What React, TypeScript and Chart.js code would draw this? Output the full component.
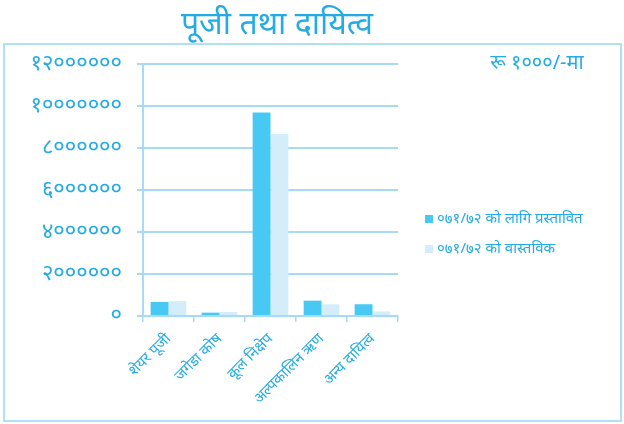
import React, { useEffect, useRef } from "react";
import { Chart, registerables } from "chart.js";

Chart.register(...registerables);

const titleText = "पूजी तथा दायित्व";
const unitText = "रू १०००/-मा";
const categories = ["शेयर पूजी", "जगेडा कोष", "कूल निक्षेप", "अल्पकालिन ऋण", "अन्य दायित्व"];
const seriesLabels = ["०७१/७२ को लागि प्रस्तावित", "०७१/७२ को वास्तविक"];
const proposed = [670000, 160000, 9690000, 730000, 560000];
const actual = [710000, 190000, 8670000, 560000, 220000];
const yMax = 12000000;
const yStep = 2000000;

const devDigits = ["०", "१", "२", "३", "४", "५", "६", "७", "८", "९"];
const toDev = (v: number) => String(v).replace(/[0-9]/g, (d) => devDigits[Number(d)]);

const FONT = "'Noto Sans', 'Noto Sans Devanagari', sans-serif";
const TEXT = "#25abe3";
const GRID = "#a6dbf4";
const DARK = "#48c9f3";
const LIGHT = "#d3eefa";

const decor = {
  id: "decor",
  beforeDraw(chart: any) {
    const ctx = chart.ctx;
    ctx.save();
    ctx.fillStyle = "#ffffff";
    ctx.fillRect(0, 0, chart.width, chart.height);
    ctx.strokeStyle = "#aee0f6";
    ctx.lineWidth = 2;
    ctx.strokeRect(4, 44, 617, 377);
    ctx.restore();
  },
  afterDraw(chart: any) {
    const ctx = chart.ctx;
    ctx.save();
    ctx.fillStyle = TEXT;
    ctx.textBaseline = "middle";
    ctx.textAlign = "center";
    ctx.font = `32px ${FONT}`;
    ctx.fillText(titleText, 277, 25);
    ctx.font = `20px ${FONT}`;
    ctx.fillText(unitText, 537, 63);
    const colors = [DARK, LIGHT];
    ctx.textAlign = "left";
    ctx.font = `15px ${FONT}`;
    seriesLabels.forEach((lab, i) => {
      const y = 219 + i * 30;
      ctx.fillStyle = colors[i];
      ctx.fillRect(425, y - 4, 8, 8);
      ctx.fillStyle = TEXT;
      ctx.fillText(lab, 437, y);
    });
    ctx.restore();
  },
};

export default function App() {
  const ref = useRef<HTMLCanvasElement>(null);
  useEffect(() => {
    if (!ref.current) return;
    const chart = new Chart(ref.current, {
      type: "bar",
      data: {
        labels: categories,
        datasets: [
          { label: seriesLabels[0], data: proposed, backgroundColor: DARK, categoryPercentage: 0.7, barPercentage: 1.0 },
          { label: seriesLabels[1], data: actual, backgroundColor: LIGHT, categoryPercentage: 0.7, barPercentage: 1.0 },
        ],
      },
      options: {
        animation: false,
        responsive: false,
        layout: { padding: { left: 8, top: 64, right: 226, bottom: 0 } },
        plugins: {
          legend: { display: false },
          title: { display: false },
          tooltip: { enabled: false },
        },
        scales: {
          x: {
            grid: { display: true, drawOnChartArea: false, color: GRID, lineWidth: 1.5, tickLength: 6, offset: true },
            border: { color: GRID, width: 2 },
            ticks: {
              color: TEXT,
              font: { family: FONT, size: 15 },
              minRotation: 45,
              maxRotation: 45,
              padding: 8,
            },
            afterFit: (s: any) => { s.height = 108; },
          },
          y: {
            min: 0,
            max: yMax,
            grid: { color: GRID, lineWidth: 2, tickLength: 6 },
            border: { color: GRID, width: 2 },
            ticks: {
              stepSize: yStep,
              color: TEXT,
              font: { family: FONT, size: 22 },
              padding: 15,
              callback: (v: any) => toDev(Number(v)),
            },
            afterFit: (s: any) => { s.width = 135; },
          },
        },
      },
      plugins: [decor],
    });
    return () => chart.destroy();
  }, []);
  return (
    <div style={{ position: "absolute", left: 0, top: 0, width: 624, height: 424 }}>
      <canvas ref={ref} width={624} height={424} style={{ display: "block" }} />
    </div>
  );
}
